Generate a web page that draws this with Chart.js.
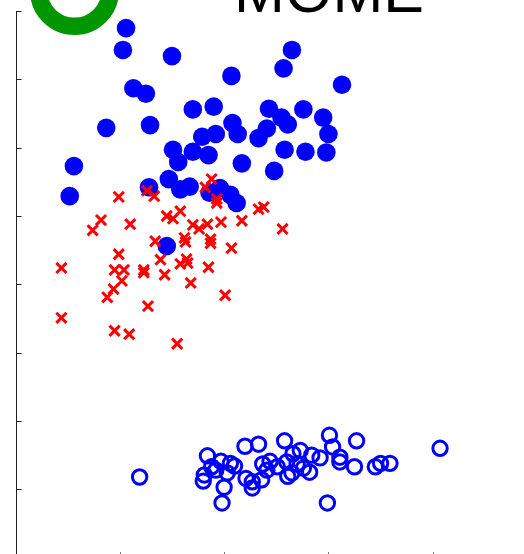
<!DOCTYPE html>
<html>
<head>
<meta charset="utf-8">
<script src="https://cdn.jsdelivr.net/npm/chart.js@4"></script>
<style>
  html, body { margin: 0; padding: 0; background: #ffffff; }
  #wrap { width: 524px; height: 554px; }
</style>
</head>
<body>
<div id="wrap"><canvas id="c" width="524" height="554"></canvas></div>
<script>
// ---- data ----
const legendLabel = "MOME";
const xTicks = [1, 2, 3, 4];
const yTicks = [1, 2, 3, 4, 5, 6, 7, 8];

const filledX = [1.06,1.03,1.50,2.65,2.57,2.07,3.13,1.13,1.25,0.87,1.29,1.70,1.90,2.43,2.76,2.55,2.61,2.95,2.08,2.41,3.00,1.92,2.13,2.33,1.79,1.51,1.56,1.70,1.85,2.58,2.78,2.98,2.17,2.48,0.56,0.52,1.47,1.28,1.58,1.67,1.86,1.96,2.06,2.12,1.45];
const filledY = [7.75,7.43,7.34,7.43,7.16,7.05,6.92,6.87,6.79,6.29,6.33,6.56,6.60,6.57,6.56,6.44,6.34,6.44,6.36,6.28,6.20,6.20,6.20,6.14,6.16,5.97,5.79,5.94,5.89,5.97,5.94,5.93,5.77,5.66,5.73,5.29,5.54,5.42,5.39,5.43,5.34,5.41,5.31,5.19,4.56];

const crossX = [1.26,1.33,1.88,1.82,1.93,1.93,0.99,0.82,0.74,1.10,1.45,1.51,1.58,1.70,1.76,1.84,1.97,2.17,2.33,2.38,2.56,1.34,1.62,1.63,1.87,1.87,2.07,0.99,1.39,1.58,1.64,1.65,1.85,0.44,0.95,1.04,1.23,1.23,1.43,1.68,1.02,0.94,0.88,1.27,2.01,0.44,0.95,1.09,1.55];
const crossY = [5.37,5.29,5.54,5.42,5.25,5.19,5.28,4.94,4.79,4.88,5.00,4.96,5.07,4.87,4.81,4.88,4.91,4.93,5.10,5.13,4.81,4.63,4.68,4.62,4.66,4.60,4.53,4.44,4.36,4.30,4.37,4.31,4.25,4.24,4.21,4.21,4.21,4.17,4.14,4.02,4.05,3.93,3.81,3.68,3.84,3.51,3.32,3.27,3.13];

const hollowX = [1.19,1.84,1.81,1.80,1.88,1.92,1.97,2.03,2.06,2.10,2.00,1.98,2.20,2.33,2.21,2.27,2.27,2.36,2.37,2.44,2.51,2.41,2.58,2.60,2.61,2.66,2.70,2.73,2.65,2.76,2.82,2.84,2.92,3.01,3.04,3.11,3.11,3.27,3.25,3.45,3.50,3.59,4.07,2.99];
const hollowY = [1.18,1.49,1.21,1.12,1.33,1.28,1.41,1.24,1.38,1.34,1.03,0.80,1.63,1.66,1.16,1.11,1.02,1.14,1.37,1.41,1.33,1.28,1.71,1.40,1.19,1.52,1.37,1.57,1.24,1.31,1.25,1.50,1.46,1.79,1.62,1.47,1.40,1.71,1.33,1.33,1.38,1.38,1.60,0.80];

const toPts = (xs, ys) => xs.map((v, i) => ({ x: v, y: ys[i] }));

// ---- frame (matplotlib-like inward ticks, left spine) ----
const framePlugin = {
  id: 'frame',
  afterDraw(chart) {
    const { ctx, chartArea, scales } = chart;
    const xs = scales.x, ys = scales.y;
    const x0 = Math.round(xs.getPixelForValue(0)) + 0.5;
    const yTop = ys.getPixelForValue(yTicks[yTicks.length - 1]);
    ctx.save();
    ctx.strokeStyle = '#222222';
    ctx.lineWidth = 1;
    ctx.beginPath();
    ctx.moveTo(x0, Math.round(yTop));
    ctx.lineTo(x0, chartArea.bottom);
    ctx.stroke();
    yTicks.forEach(v => {
      const py = Math.round(ys.getPixelForValue(v)) + 0.5;
      ctx.beginPath();
      ctx.moveTo(x0, py);
      ctx.lineTo(x0 + 5, py);
      ctx.stroke();
    });
    ctx.strokeStyle = '#777777';
    xTicks.forEach(v => {
      const px = Math.round(xs.getPixelForValue(v)) + 0.5;
      ctx.beginPath();
      ctx.moveTo(px, chartArea.bottom - 2);
      ctx.lineTo(px, chartArea.bottom);
      ctx.stroke();
    });
    ctx.restore();
  }
};

// ---- legend (ring marker + large label, partly cut off at the top) ----
const legendPlugin = {
  id: 'bigLegend',
  afterDraw(chart) {
    const { ctx } = chart;
    ctx.save();
    ctx.strokeStyle = '#009600';
    ctx.lineWidth = 17.5;
    ctx.beginPath();
    ctx.arc(74.5, -9.5, 35.8, 0, Math.PI * 2);
    ctx.stroke();
    ctx.fillStyle = '#000000';
    ctx.font = '61px "Liberation Sans", Arial, sans-serif';
    ctx.textAlign = 'center';
    ctx.textBaseline = 'alphabetic';
    ctx.fillText(legendLabel, 329, 12);
    ctx.restore();
  }
};

new Chart(document.getElementById('c'), {
  type: 'scatter',
  data: {
    datasets: [
      {
        label: 'cross',
        data: toPts(crossX, crossY),
        pointStyle: 'crossRot',
        pointRadius: 7.2,
        pointBorderWidth: 3,
        borderColor: '#ff0000',
        backgroundColor: '#ff0000',
        pointHoverRadius: 7.2
      },
      {
        label: 'filled',
        data: toPts(filledX, filledY),
        pointStyle: 'circle',
        pointRadius: 9.3,
        pointBorderWidth: 0,
        borderColor: '#0000ff',
        backgroundColor: '#0000ff',
        pointHoverRadius: 9.3
      },
      {
        label: 'hollow',
        data: toPts(hollowX, hollowY),
        pointStyle: 'circle',
        pointRadius: 7.2,
        pointBorderWidth: 3,
        borderColor: '#0000ff',
        backgroundColor: 'rgba(0,0,0,0)',
        pointHoverRadius: 7.2
      }
    ]
  },
  options: {
    responsive: false,
    animation: false,
    devicePixelRatio: 1,
    layout: { autoPadding: false, padding: { left: 15.5, top: 11, right: 0, bottom: 0 } },
    plugins: { legend: { display: false }, tooltip: { enabled: false }, title: { display: false } },
    events: [],
    scales: {
      x: { type: 'linear', display: false, min: 0, max: 4.875 },
      y: { type: 'linear', display: false, min: 0.053, max: 8 }
    }
  },
  plugins: [framePlugin, legendPlugin]
});
</script>
</body>
</html>
